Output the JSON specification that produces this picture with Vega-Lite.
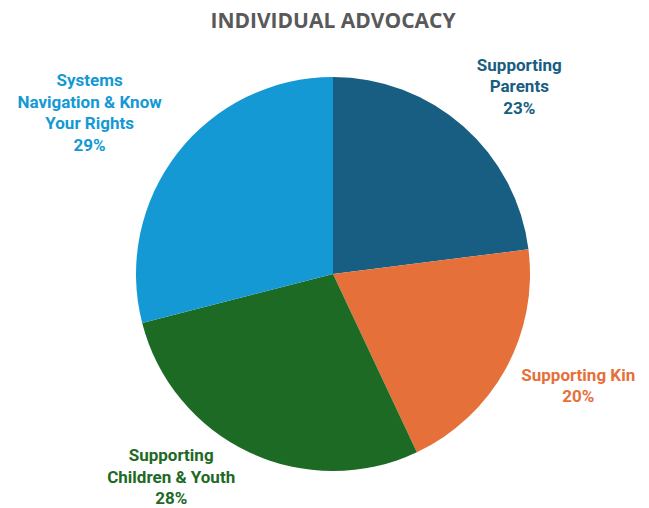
{
  "$schema": "https://vega.github.io/schema/vega-lite/v6.json",
  "width": 632,
  "height": 468,
  "autosize": {"type": "none"},
  "padding": {"left": 17, "top": 40, "right": 0, "bottom": 0},
  "background": "white",
  "config": {"view": {"stroke": null}},
  "title": {"text": "INDIVIDUAL ADVOCACY", "font": "Open Sans", "fontSize": 21, "fontWeight": "bold", "color": "#595959", "anchor": "middle", "frame": "group", "offset": -23},
  "data": {"values": [
    {"rank": 1, "name": "Supporting Parents", "pct": 23, "label": "Supporting\nParents\n23%"},
    {"rank": 2, "name": "Supporting Kin", "pct": 20, "label": "Supporting Kin\n20%"},
    {"rank": 3, "name": "Supporting Children & Youth", "pct": 28, "label": "Supporting\nChildren & Youth\n28%"},
    {"rank": 4, "name": "Systems Navigation & Know Your Rights", "pct": 29, "label": "Systems\nNavigation & Know\nYour Rights\n29%"}
  ]},
  "encoding": {
    "theta": {"field": "pct", "type": "quantitative", "stack": true},
    "order": {"field": "rank", "type": "quantitative"},
    "color": {
      "field": "name", "type": "nominal", "legend": null,
      "scale": {
        "domain": ["Supporting Parents", "Supporting Kin", "Supporting Children & Youth", "Systems Navigation & Know Your Rights"],
        "range": ["#175e82", "#e6703a", "#1d6a25", "#1499d4"]
      }
    }
  },
  "layer": [
    {"mark": {"type": "arc", "outerRadius": 197}},
    {
      "mark": {"type": "text", "radius": 265, "dx": 11, "dy": -9.5, "font": "Roboto", "fontSize": 17, "fontWeight": "bold", "lineBreak": "\n", "lineHeight": 21.5, "align": "center", "baseline": "middle"},
      "encoding": {"text": {"condition": {"test": "datum.name === 'Supporting Parents'", "field": "label"}, "value": ""}}
    },
    {
      "mark": {"type": "text", "radius": 265, "dx": 13, "dy": -25.75, "font": "Roboto", "fontSize": 17, "fontWeight": "bold", "lineBreak": "\n", "lineHeight": 21.5, "align": "center", "baseline": "middle"},
      "encoding": {"text": {"condition": {"test": "datum.name === 'Supporting Kin'", "field": "label"}, "value": ""}}
    },
    {
      "mark": {"type": "text", "radius": 265, "dx": -49, "dy": -57.5, "font": "Roboto", "fontSize": 17, "fontWeight": "bold", "lineBreak": "\n", "lineHeight": 21.5, "align": "center", "baseline": "middle"},
      "encoding": {"text": {"condition": {"test": "datum.name === 'Supporting Children & Youth'", "field": "label"}, "value": ""}}
    },
    {
      "mark": {"type": "text", "radius": 265, "dx": -34, "dy": -30.25, "font": "Roboto", "fontSize": 17, "fontWeight": "bold", "lineBreak": "\n", "lineHeight": 21.5, "align": "center", "baseline": "middle"},
      "encoding": {"text": {"condition": {"test": "datum.name === 'Systems Navigation & Know Your Rights'", "field": "label"}, "value": ""}}
    }
  ]
}
